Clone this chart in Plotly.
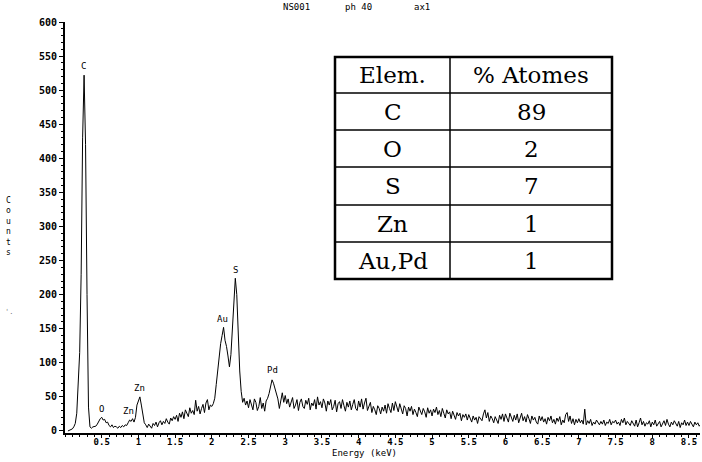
import plotly.graph_objects as go

# ---------------- data ----------------
# EDX spectrum: channel calibration (keV) and counts
E_START = 0.04
E_STEP = 0.02
counts = [
    # 0.04 - 0.48
    0, 1, 2, 3, 6, 11, 26, 62, 115, 230, 430, 522, 420, 200, 35, 6, 4, 6, 6, 7, 10, 15, 18,
    # 0.50 - 0.98
    20, 16, 17, 12, 13, 8, 6, 9, 5, 7, 6, 4, 7, 5, 8, 6, 9, 8, 12, 16, 14, 18, 13, 20, 38,
    # 1.00 - 1.48
    46, 50, 38, 22, 12, 9, 5, 10, 7, 4, 11, 8, 13, 6, 12, 15, 9, 14, 11, 18, 13, 10, 19, 15, 21,
    # 1.50 - 1.98
    17, 23, 14, 26, 20, 28, 18, 31, 25, 21, 34, 26, 30, 24, 45, 29, 36, 25, 33, 39, 27, 41, 46, 31, 38,
    # 2.00 - 2.48
    36, 40, 48, 68, 90, 112, 128, 140, 152, 133, 124, 110, 94, 112, 150, 195, 224, 200, 140, 88, 58, 42, 48, 38, 44,
    # 2.50 - 2.98
    34, 46, 39, 31, 47, 42, 30, 36, 49, 33, 41, 29, 44, 48, 55, 66, 75, 70, 62, 58, 47, 33, 48, 56, 42,
    # 3.00 - 3.48
    52, 40, 47, 35, 44, 49, 33, 38, 46, 30, 42, 47, 36, 33, 45, 39, 48, 31, 41, 37, 46, 32, 50, 38, 43,
    # 3.50 - 3.98
    34, 47, 41, 29, 44, 38, 46, 31, 36, 45, 28, 40, 43, 33, 46, 37, 29, 42, 35, 44, 31, 39, 46, 33, 30,
    # 4.00 - 4.48
    44, 35, 47, 32, 41, 48, 30, 38, 42, 27, 36, 31, 24, 37, 33, 25, 35, 29, 38, 26, 40, 33, 27, 41, 30,
    # 4.50 - 4.98
    43, 34, 28, 40, 31, 25, 37, 33, 22, 35, 29, 36, 24, 32, 27, 21, 35, 30, 24, 33, 28, 20, 34, 26, 31,
    # 5.00 - 5.48
    22, 32, 27, 35, 24, 30, 21, 33, 26, 19, 31, 25, 28, 18, 29, 23, 17, 27, 22, 26, 15, 24, 20, 25, 16,
    # 5.50 - 5.98
    24, 18, 13, 22, 16, 20, 11, 21, 17, 15, 25, 31, 19, 27, 14, 22, 18, 12, 21, 16, 11, 23, 17, 25, 14,
    # 6.00 - 6.48
    25, 18, 13, 26, 20, 14, 23, 16, 25, 12, 19, 26, 15, 21, 13, 24, 18, 11, 22, 16, 20, 13, 10, 22, 15,
    # 6.50 - 6.98
    21, 13, 18, 10, 20, 15, 22, 12, 17, 10, 19, 14, 21, 9, 16, 12, 24, 27, 14, 22, 11, 18, 9, 17, 12,
    # 7.00 - 7.48
    18, 12, 16, 10, 32, 9, 15, 11, 17, 8, 13, 10, 16, 12, 9, 14, 10, 16, 8, 13, 11, 17, 9, 14, 12,
    # 7.50 - 7.98
    16, 10, 13, 8, 17, 12, 19, 9, 14, 11, 8, 15, 10, 7, 16, 6, 12, 19, 9, 14, 7, 12, 10, 15, 6,
    # 8.00 - 8.48
    13, 9, 16, 7, 11, 14, 6, 12, 15, 8, 17, 10, 6, 13, 9, 15, 11, 7, 14, 5, 12, 9, 16, 8, 13,
    # 8.50 - 8.66
    8, 14, 10, 6, 13, 9, 12, 7, 10,
]
energy = [round(E_START + E_STEP * i, 2) for i in range(len(counts))]

x_tick_vals = [0.5, 1, 1.5, 2, 2.5, 3, 3.5, 4, 4.5, 5, 5.5, 6, 6.5, 7, 7.5, 8, 8.5]
x_tick_text = ["0.5", "1", "1.5", "2", "2.5", "3", "3.5", "4", "4.5", "5", "5.5",
               "6", "6.5", "7", "7.5", "8", "8.5"]
y_tick_vals = [0, 50, 100, 150, 200, 250, 300, 350, 400, 450, 500, 550, 600]

peak_names = ["C", "O", "Zn", "Zn", "Au", "S", "Pd"]
peak_energy = [0.25, 0.50, 0.87, 1.02, 2.15, 2.32, 2.83]
peak_count = [535, 32, 29, 63, 164, 236, 89]

table_header = ["Elem.", "% Atomes"]
table_elements = ["C", "O", "S", "Zn", "Au,Pd"]
table_percent = ["89", "2", "7", "1", "1"]

title_parts = ["NS001", "ph 40", "ax1"]

# ---------------- figure ----------------
W, H = 702, 462
ML, MR, MT, MB = 65, 2, 22, 29
PW, PH = W - ML - MR, H - MT - MB


def px(xpix):
    return (xpix - ML) / PW


def py(ypix):
    return (H - MB - ypix) / PH


mono = "DejaVu Sans Mono"
fig = go.Figure()
fig.add_trace(go.Scatter(x=energy, y=counts, mode="lines",
                         line=dict(color="black", width=1), hoverinfo="skip",
                         showlegend=False))

annotations = []
for name, e, c in zip(peak_names, peak_energy, peak_count):
    annotations.append(dict(x=e, y=c, xref="x", yref="y", text=name, showarrow=False,
                            font=dict(family=mono, size=9, color="black"),
                            xanchor="center", yanchor="middle"))

title_x = [296, 358, 422]
for t, xp_ in zip(title_parts, title_x):
    annotations.append(dict(x=px(xp_), y=py(7), xref="paper", yref="paper", text=t,
                            showarrow=False, font=dict(family=mono, size=9, color="black"),
                            xanchor="center", yanchor="middle"))

annotations.append(dict(x=px(364), y=py(453), xref="paper", yref="paper",
                        text="Energy (keV)", showarrow=False,
                        font=dict(family=mono, size=9, color="black"),
                        xanchor="center", yanchor="middle"))
annotations.append(dict(x=px(8), y=py(227), xref="paper", yref="paper",
                        text="<br>".join(list("Counts")), showarrow=False,
                        font=dict(family=mono, size=8, color="black"),
                        xanchor="center", yanchor="middle"))
annotations.append(dict(x=px(9), y=py(312), xref="paper", yref="paper",
                        text="'.", showarrow=False,
                        font=dict(family=mono, size=7, color="#777"),
                        xanchor="center", yanchor="middle"))

# table (drawn with shapes + text)
tx0, tx1, tmid = 335, 612, 450
row_edges = [57, 93, 130, 167, 205, 242, 279]
shapes = [dict(type="rect", xref="paper", yref="paper",
               x0=px(tx0), x1=px(tx1), y0=py(row_edges[-1]), y1=py(row_edges[0]),
               line=dict(color="black", width=2.5), fillcolor="white", layer="above")]
shapes.append(dict(type="line", xref="paper", yref="paper", x0=px(tmid), x1=px(tmid),
                   y0=py(row_edges[-1]), y1=py(row_edges[0]),
                   line=dict(color="black", width=1.5), layer="above"))
for r in row_edges[1:-1]:
    shapes.append(dict(type="line", xref="paper", yref="paper", x0=px(tx0), x1=px(tx1),
                       y0=py(r), y1=py(r), line=dict(color="black", width=1.5),
                       layer="above"))

rows = [table_header] + [[a, b] for a, b in zip(table_elements, table_percent)]
serif = "DejaVu Serif"
for i, row in enumerate(rows):
    yc = (row_edges[i] + row_edges[i + 1]) / 2
    for j, txt in enumerate(row):
        xc = (tx0 + tmid) / 2 if j == 0 else (tmid + tx1) / 2
        annotations.append(dict(x=px(xc), y=py(yc), xref="paper", yref="paper", text=txt,
                                showarrow=False,
                                font=dict(family=serif, size=23, color="black"),
                                xanchor="center", yanchor="middle"))

fig.update_layout(
    width=W, height=H,
    margin=dict(l=ML, r=MR, t=MT, b=MB, pad=0, autoexpand=False),
    paper_bgcolor="white", plot_bgcolor="white",
    showlegend=False,
    annotations=annotations,
    shapes=shapes,
    xaxis=dict(range=[0, 8.65], showgrid=False, zeroline=False, automargin=False,
               showline=True, linecolor="black", linewidth=2,
               ticks="outside", ticklen=3, tickwidth=1, tickcolor="black",
               ticklabelstandoff=-4,
               tickvals=x_tick_vals, ticktext=x_tick_text,
               tickfont=dict(family=mono, size=9, color="black", weight="bold"),
               minor=dict(dtick=0.1, tick0=0, ticks="outside", ticklen=2,
                          tickcolor="black", tickwidth=1)),
    yaxis=dict(range=[-3, 600], showgrid=False, zeroline=False, automargin=False,
               showline=True, linecolor="black", linewidth=2,
               ticks="outside", ticklen=4, tickwidth=1, tickcolor="black",
               tickvals=y_tick_vals,
               tickfont=dict(family=mono, size=10, color="black", weight="bold"),
               minor=dict(dtick=10, tick0=0, ticks="outside", ticklen=2,
                          tickcolor="black", tickwidth=1)),
)

# remove the browser's default page margin so the figure sits at the top-left corner
fig.write_html("out.html", config={"displayModeBar": False},
               post_script="document.body.style.margin='0px';document.body.style.overflow='hidden';")
